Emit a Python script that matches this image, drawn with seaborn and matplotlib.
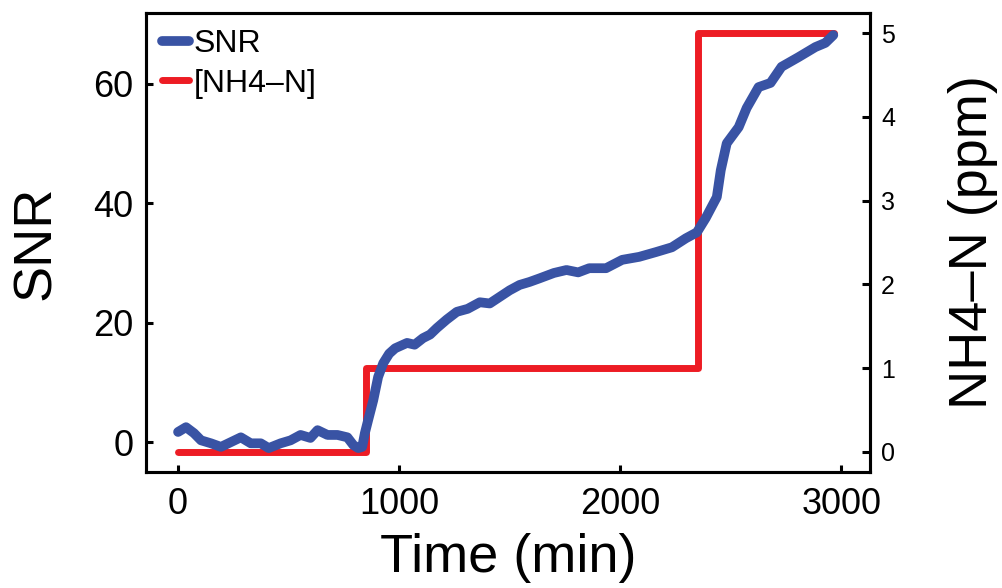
import matplotlib
matplotlib.use("Agg")
import matplotlib.pyplot as plt
import seaborn as sns
import pandas as pd

# ---- data ----
snr_time = [0, 36, 72, 104, 149, 194, 239, 284, 329, 374, 410, 464, 509, 554, 599, 631,
            676, 721, 766, 793, 815, 833, 845, 860, 883, 905, 928, 955, 982, 1036, 1070,
            1108, 1140, 1171, 1215, 1261, 1310, 1365, 1410, 1455, 1500, 1545, 1590, 1635,
            1700, 1757, 1810, 1860, 1936, 2009, 2086, 2162, 2234, 2297, 2347, 2387, 2437,
            2455, 2482, 2536, 2572, 2626, 2680, 2730, 2806, 2883, 2928, 2964]
snr_values = [1.7, 2.5, 1.5, 0.3, -0.2, -0.8, 0.0, 0.8, -0.2, -0.2, -1.0, -0.2, 0.3, 1.2,
              0.7, 2.0, 1.2, 1.2, 0.8, -0.5, -1.0, -0.8, 1.5, 3.7, 7.0, 10.9, 13.2, 14.8,
              15.7, 16.6, 16.3, 17.4, 18.0, 19.1, 20.5, 21.8, 22.3, 23.4, 23.2, 24.3, 25.4,
              26.3, 26.8, 27.4, 28.3, 28.8, 28.4, 29.1, 29.1, 30.5, 31.0, 31.8, 32.6, 34.1,
              35.1, 37.5, 41.0, 45.5, 50.0, 52.7, 55.9, 59.4, 60.1, 62.8, 64.4, 66.1, 66.8,
              68.1]
nh4_time = [0, 850, 2350, 2965]
nh4_values = [0, 1, 5, 5]

x_ticks = [0, 1000, 2000, 3000]
snr_ticks = [0, 20, 40, 60]
nh4_ticks = [0, 1, 2, 3, 4, 5]

BLUE = "#3953A4"
RED = "#ED1C24"

sns.set_style("white")
plt.rcParams["font.family"] = ["Liberation Sans", "DejaVu Sans"]
plt.rcParams["text.color"] = "black"
plt.rcParams["axes.labelcolor"] = "black"

df_snr = pd.DataFrame({"time": snr_time, "snr": snr_values})
df_nh4 = pd.DataFrame({"time": nh4_time, "nh4": nh4_values})

fig = plt.figure(figsize=(10.03, 5.88), dpi=100)
ax1 = fig.add_axes([146 / 1003, 1 - 472 / 588, (870 - 146) / 1003, (472 - 13) / 588])
ax2 = ax1.twinx()

sns.lineplot(data=df_nh4, x="time", y="nh4", ax=ax2, color=RED, lw=5,
             drawstyle="steps-post", label="[NH4\u2013N]", legend=False)
sns.lineplot(data=df_snr, x="time", y="snr", ax=ax1, color=BLUE, lw=7,
             label="SNR", legend=False)

ax1.set_zorder(ax2.get_zorder() + 1)
ax1.patch.set_visible(False)

ax1.set_xlim(-145, 3130)
ax1.set_ylim(-5.0, 71.8)
ax2.set_ylim(-0.24, 5.24)

ax1.set_xticks(x_ticks)
ax1.set_yticks(snr_ticks)
ax2.set_yticks(nh4_ticks)

for ax in (ax1, ax2):
    for s in ax.spines.values():
        s.set_linewidth(2.2)
        s.set_color("black")

ax1.tick_params(axis="both", direction="in", length=5, width=2.2, labelsize=26,
                colors="black", right=False, top=False, left=True, bottom=True)
ax1.tick_params(axis="y", pad=9)
ax1.tick_params(axis="x", pad=11)
ax2.tick_params(axis="y", direction="in", length=6, width=2.2, labelsize=18,
                colors="black", pad=8, right=True, left=False)

ax1.set_xlabel("Time (min)", fontsize=39, labelpad=8, color="black")
ax1.set_ylabel("SNR", fontsize=39, labelpad=23, color="black")
ax2.set_ylabel("NH4\u2013N (ppm)", fontsize=39, labelpad=38, color="black",
               rotation=90)

h1, l1 = ax1.get_legend_handles_labels()
h2, l2 = ax2.get_legend_handles_labels()
leg = ax1.legend(h1 + h2, l1 + l2, loc="upper left", bbox_to_anchor=(0.0, 1.0),
                 frameon=False, fontsize=23, handlelength=0.85, handletextpad=0.15,
                 borderaxespad=0.1, labelspacing=0.3)
for t in leg.get_texts():
    t.set_color("black")

fig.savefig("out.png", dpi=100)
